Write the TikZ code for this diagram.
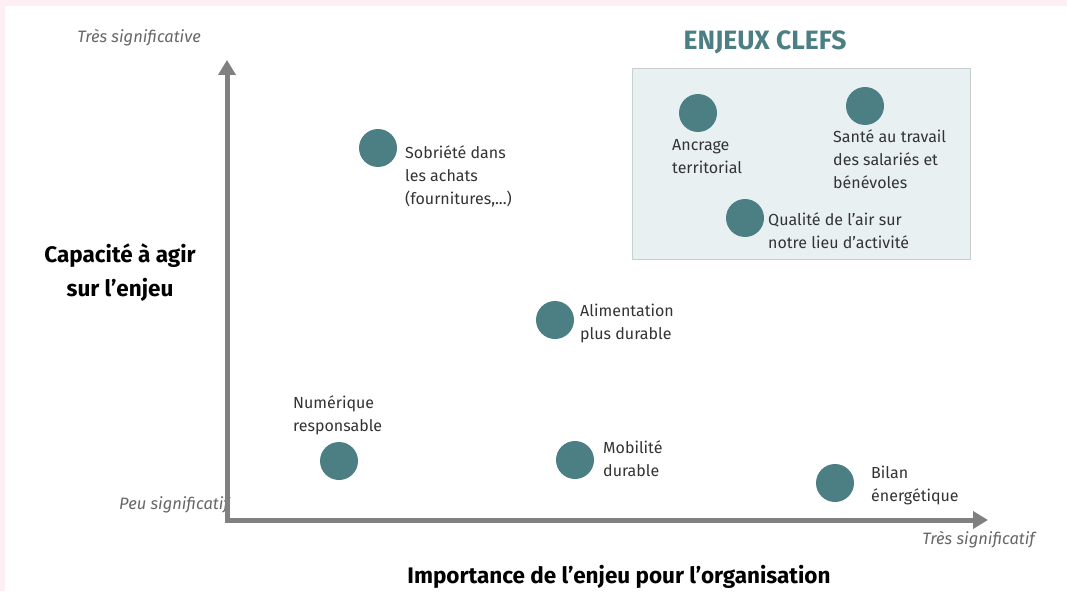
\documentclass[tikz,border=0pt]{standalone}
\usepackage{fontspec}
\setmainfont{Fira Sans}
\usetikzlibrary{arrows.meta}

\definecolor{teal}{HTML}{4B7F84}
\definecolor{boxfill}{HTML}{E9F0F2}
\definecolor{boxline}{HTML}{C9CFD0}
\definecolor{axisgray}{HTML}{808080}
\definecolor{pinkband}{HTML}{FDEFF4}
\definecolor{txt}{HTML}{333333}

\tikzset{
  dot/.style={circle, fill=teal, minimum size=38pt, inner sep=0pt},
  lbl/.style={anchor=north west, align=left, inner sep=0pt, text=txt,
    font=\fontsize{16}{23}\selectfont},
  axislbl/.style={inner sep=0pt, text=axisgray!80!black,
    font=\fontsize{16.5}{19}\selectfont\itshape},
  title/.style={inner sep=0pt, align=center, text=black,
    font=\fontsize{22.5}{34}\selectfont\bfseries},
  axis/.style={axisgray, line width=5pt, -{Triangle[width=17pt,length=15pt]}}
}

\begin{document}
\begin{tikzpicture}[x=1pt, y=-1pt]
	\useasboundingbox (0,0) rectangle (1067,591);
	\fill[white] (0,0) rectangle (1067,591);
	\fill[pinkband] (0,0) rectangle (1067,6);
	\fill[pinkband] (0,0) rectangle (5,591);

	% key issues frame
	\node[inner sep=0pt, text=teal, font=\fontsize{26.5}{30}\selectfont\bfseries] (keytitle) at (765,42) {ENJEUX CLEFS};
	\draw[boxline, fill=boxfill, line width=0.8pt] (632,68) rectangle (970,259);

	% axes
	\coordinate (origin) at (227,520);
	\coordinate (ytop) at (227,60);
	\coordinate (xend) at (988,520);
	\node[axislbl, anchor=east] (peu) at (229,505) {Peu significatif};
	\draw[axis] (origin) -- (ytop);
	\draw[axis] ([xshift=-2.5pt]origin) -- (xend);
	\node[axislbl, anchor=east] (tresy) at (201,38) {Très significative};
	\node[axislbl, anchor=east] (tresx) at (1035,540) {Très significatif};
	\node[title] (ylab) at (120,273) {Capacité à agir\\sur l’enjeu};
	\node[title] (xlab) at (619,577) {Importance de l’enjeu pour l’organisation};

	% issues
	\node[dot] (sobriete) at (378,148) {};
	\node[lbl] (sobrietetxt) at (405,145) {Sobriété dans\\les achats\\(fournitures,...)};
	\node[dot] (alim) at (555,320) {};
	\node[lbl] (alimtxt) at (580,304) {Alimentation\\plus durable};
	\node[dot] (mobilite) at (575,460) {};
	\node[lbl] (mobilitetxt) at (603,440) {Mobilité\\durable};
	\node[dot] (numerique) at (339,461) {};
	\node[lbl] (numeriquetxt) at (293,395) {Numérique\\responsable};
	\node[dot] (bilan) at (835,483) {};
	\node[lbl] (bilantxt) at (871,466) {Bilan\\énergétique};

	% key issues
	\node[dot] (ancrage) at (698,113) {};
	\node[lbl] (ancragetxt) at (672,139) {Ancrage\\territorial};
	\node[dot] (sante) at (865,106) {};
	\node[lbl] (santetxt) at (833,129) {Santé au travail\\des salariés et\\bénévoles};
	\node[dot] (air) at (745,218) {};
	\node[lbl] (airtxt) at (768,212) {Qualité de l’air sur\\notre lieu d’activité};
\end{tikzpicture}
\end{document}
